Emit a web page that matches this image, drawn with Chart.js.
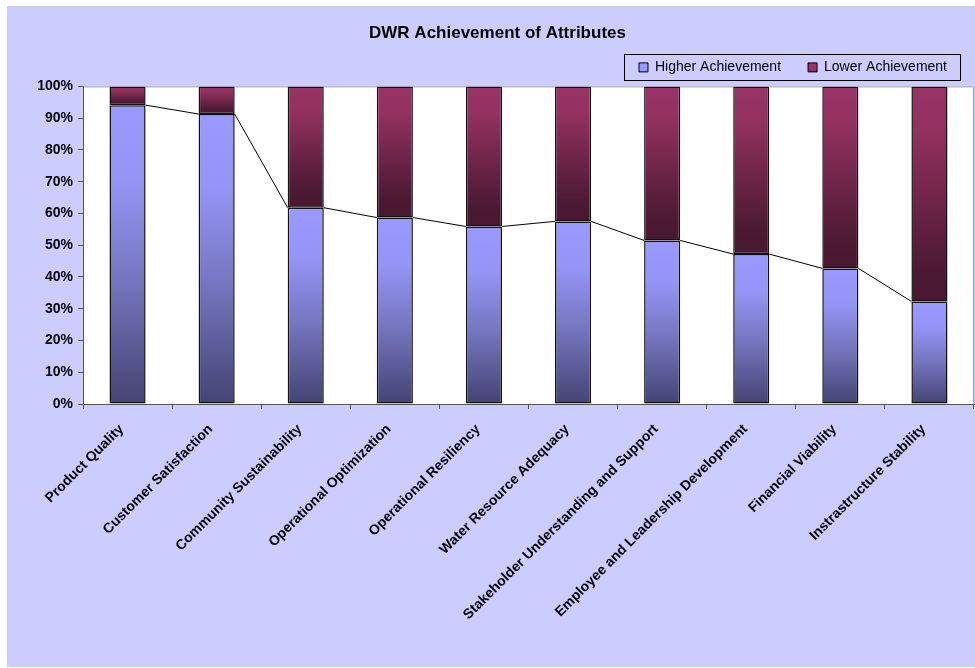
<!DOCTYPE html>
<html>
<head>
<meta charset="utf-8">
<title>DWR Achievement of Attributes</title>
<script src="https://cdn.jsdelivr.net/npm/chart.js@4.4.1/dist/chart.umd.min.js"></script>
<style>
    body { margin: 0; background: #ffffff; }
    #chart-box {
        position: absolute;
        left: 7px;
        top: 6px;
        width: 968px;
        height: 661px;
        background: #ccccff;
    }
</style>
</head>
<body>
<div id="chart-box"><canvas id="achievement-chart"></canvas></div>
<script>
// Dados do gráfico
const attributes = [
    'Product Quality',
    'Customer Satisfaction',
    'Community Sustainability',
    'Operational Optimization',
    'Operational Resiliency',
    'Water Resource Adequacy',
    'Stakeholder Understanding and Support',
    'Employee and Leadership Development',
    'Financial Viability',
    'Instrastructure Stability'
];
const higherAchievement = [94.1, 91.3, 61.8, 58.7, 55.9, 57.5, 51.5, 47.2, 42.7, 32.3];
const lowerAchievement = [5.9, 8.7, 38.2, 41.3, 44.1, 42.5, 48.5, 52.8, 57.3, 67.7];
const percentTicks = [0, 10, 20, 30, 40, 50, 60, 70, 80, 90, 100];

const FONT = 'Arial, "Liberation Sans", sans-serif';

// Cores do degradê (claro em cima, escuro embaixo)
const blueStops = [[0, '#9999ff'], [0.25, '#9595f7'], [0.6, '#7474be'], [1, '#444474']];
const plumStops = [[0, '#993366'], [0.2, '#93315f'], [0.55, '#6d2447'], [0.85, '#4c1a33'], [1, '#48182f']];
const datasetStops = [blueStops, plumStops];

// Aplica um degradê em cada barra, usando a posição já calculada pela escala
const gradientPlugin = {
    id: 'barGradients',
    beforeDatasetsDraw(chart) {
        const ctx = chart.ctx;
        chart.data.datasets.forEach((ds, di) => {
            chart.getDatasetMeta(di).data.forEach(bar => {
                const top = Math.min(bar.y, bar.base);
                const bottom = Math.max(bar.y, bar.base);
                const grad = ctx.createLinearGradient(0, top, 0, bottom + 0.01);
                datasetStops[di].forEach(s => grad.addColorStop(s[0], s[1]));
                bar.options.backgroundColor = grad;
            });
        });
    }
};

// Fundo branco e moldura da área do gráfico
const plotAreaPlugin = {
    id: 'plotArea',
    afterLayout(chart) {
        // pequenos ajustes de posição do título e da legenda
        if (chart.titleBlock) {
            chart.titleBlock.left += 14;
        }
        if (chart.legend) {
            chart.legend.top -= 2;
            chart.legend.bottom -= 2;
        }
    },
    beforeDraw(chart) {
        const { ctx, chartArea: a } = chart;
        ctx.save();
        ctx.fillStyle = '#ffffff';
        ctx.fillRect(a.left, a.top, a.right - a.left, a.bottom - a.top);
        ctx.strokeStyle = '#a0a0a0';
        ctx.lineWidth = 1;
        ctx.beginPath();
        ctx.moveTo(a.left, a.top + 0.5);
        ctx.lineTo(a.right - 0.5, a.top + 0.5);
        ctx.lineTo(a.right - 0.5, a.bottom);
        ctx.stroke();
        ctx.restore();
    }
};

// Linhas de série ligando o topo das barras "Higher Achievement"
const seriesLinesPlugin = {
    id: 'seriesLines',
    afterDatasetsDraw(chart) {
        const bars = chart.getDatasetMeta(0).data;
        const ctx = chart.ctx;
        ctx.save();
        ctx.strokeStyle = '#000000';
        ctx.lineWidth = 1;
        ctx.beginPath();
        for (let i = 0; i < bars.length - 1; i++) {
            const a = bars[i];
            const b = bars[i + 1];
            ctx.moveTo(a.x + a.width / 2, a.y);
            ctx.lineTo(b.x - b.width / 2, b.y);
        }
        ctx.stroke();
        ctx.restore();
    }
};

// Moldura da legenda
const legendFramePlugin = {
    id: 'legendFrame',
    afterDraw(chart) {
        const boxes = chart.legend && chart.legend.legendHitBoxes;
        if (!boxes || !boxes.length) return;
        const first = boxes[0];
        const last = boxes[boxes.length - 1];
        const ctx = chart.ctx;
        const left = Math.round(first.left - 15) + 0.5;
        const right = Math.round(last.left + last.width + 13) + 0.5;
        const top = Math.round(first.top - 6) + 0.5;
        const height = Math.round(first.height + 12);
        ctx.save();
        ctx.strokeStyle = '#000000';
        ctx.lineWidth = 1;
        ctx.strokeRect(left, top, right - left, height);
        ctx.restore();
    }
};

const ctx = document.getElementById('achievement-chart').getContext('2d');

const achievementChart = new Chart(ctx, {
    type: 'bar',
    data: {
        labels: attributes,
        datasets: [
            {
                label: 'Higher Achievement',
                data: higherAchievement,
                backgroundColor: () => '#9999ff',
                borderColor: '#111111',
                borderWidth: 1.5,
                borderSkipped: false,
                categoryPercentage: 1,
                barPercentage: 0.405
            },
            {
                label: 'Lower Achievement',
                data: lowerAchievement,
                backgroundColor: () => '#993366',
                borderColor: '#111111',
                borderWidth: 1.5,
                borderSkipped: false,
                categoryPercentage: 1,
                barPercentage: 0.405
            }
        ]
    },
    options: {
        responsive: true,
        maintainAspectRatio: false,
        animation: false,
        layout: { padding: { left: 0, right: 1, top: 0, bottom: 0 } },
        scales: {
            x: {
                stacked: true,
                afterFit: scale => { scale.height = 263; },
                grid: {
                    offset: true,
                    drawOnChartArea: false,
                    drawTicks: true,
                    tickLength: 5,
                    color: '#555555'
                },
                border: { color: '#555555', width: 1 },
                ticks: {
                    autoSkip: false,
                    minRotation: 45,
                    maxRotation: 45,
                    padding: 12,
                    labelOffset: -6,
                    color: '#000000',
                    font: { family: FONT, size: 14, weight: 'bold' }
                }
            },
            y: {
                stacked: true,
                min: 0,
                max: 100,
                afterFit: scale => { scale.width = 76; },
                afterBuildTicks: scale => {
                    scale.ticks = percentTicks.map(v => ({ value: v }));
                },
                grid: {
                    drawOnChartArea: false,
                    drawTicks: true,
                    tickLength: 5,
                    color: '#555555'
                },
                border: { color: '#555555', width: 1 },
                ticks: {
                    padding: 5,
                    color: '#000000',
                    font: { family: FONT, size: 14, weight: 'bold' },
                    callback: value => value + '%'
                }
            }
        },
        plugins: {
            title: {
                display: true,
                text: 'DWR Achievement of Attributes',
                color: '#000000',
                font: { family: FONT, size: 17, weight: 'bold' },
                padding: { top: 17, bottom: -8 }
            },
            legend: {
                display: true,
                position: 'top',
                align: 'end',
                labels: {
                    boxWidth: 9,
                    boxHeight: 9,
                    padding: 27,
                    color: '#000000',
                    font: { family: FONT, size: 14 },
                    generateLabels: chart => {
                        const fills = ['#9999ff', '#993366'];
                        return chart.data.datasets.map((ds, i) => ({
                            text: ds.label,
                            fillStyle: fills[i],
                            strokeStyle: '#000000',
                            lineWidth: 1,
                            hidden: false,
                            datasetIndex: i,
                            fontColor: '#000000'
                        }));
                    }
                }
            },
            tooltip: { enabled: false }
        }
    },
    plugins: [gradientPlugin, plotAreaPlugin, seriesLinesPlugin, legendFramePlugin]
});
</script>
</body>
</html>
